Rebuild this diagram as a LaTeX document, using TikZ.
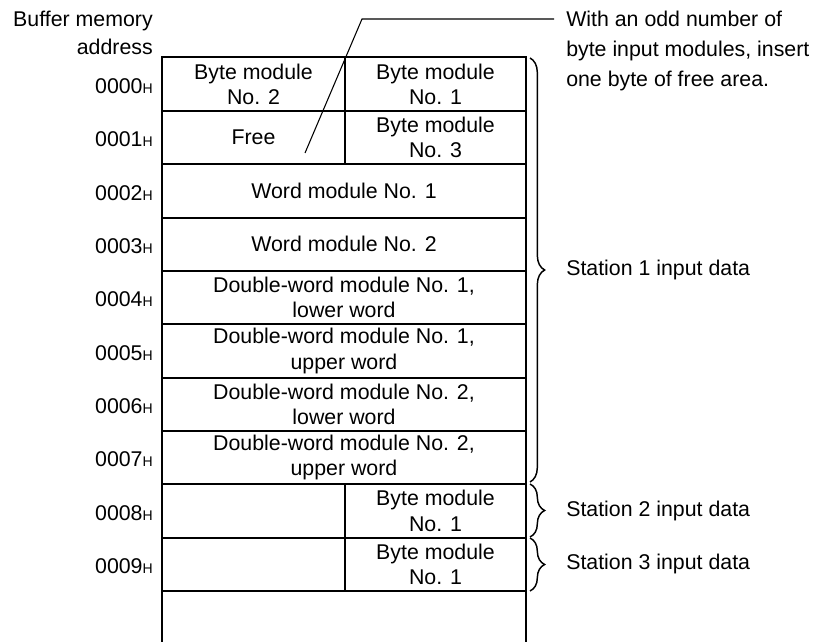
\documentclass[tikz,border=0pt]{standalone}
\usepackage{fontspec}
\setmainfont{Liberation Sans}
\usetikzlibrary{decorations.pathreplacing}

\begin{document}
\begin{tikzpicture}[x=0.75pt,y=-0.75pt,
  grid/.style={line width=1.5pt},
  celltext/.style={align=center, font=\fontsize{16}{19}\selectfont, inner sep=0pt},
  addr/.style={anchor=east, font=\fontsize{16}{19}\selectfont, inner sep=0pt},
  note/.style={align=left, font=\fontsize{16}{22.5}\selectfont, inner sep=0pt},
  callout/.style={line width=0.8pt},
  stationbrace/.style={decorate, decoration={brace, amplitude=11pt}, line width=1.1pt},
  station/.style={anchor=west, font=\fontsize{16}{19}\selectfont, inner sep=0pt},
]
\useasboundingbox (0,0) rectangle (822,642);

\newcommand{\hx}{{\fontsize{10.5}{12}\selectfont H}}

% memory table frame and row separators
\draw[grid] (162,642) -- (162,57.5) -- (526,57.5) -- (526,642);
\foreach \k in {1,...,10}
  \draw[grid] (162,{57.5+53.35*\k}) -- (526,{57.5+53.35*\k});
\draw[grid] (345,57.5) -- (345,164.2);
\draw[grid] (345,484.3) -- (345,591);

% header
\node[align=right, anchor=north east, inner sep=0pt,
      font=\fontsize{16}{21}\selectfont] (hdr) at (153,11) {Buffer memory\\address};

% addresses
\foreach \k/\a in {0/0000,1/0001,2/0002,3/0003,4/0004,5/0005,6/0006,7/0007,8/0008,9/0009}
  \node[addr] (a\a) at (153,{57.5+53.35*\k+28.5}) {\a\hx};

% cell contents
\node[celltext] (b2)  at (253.5,84.2)  {Byte module\\No. 2};
\node[celltext] (b1)  at (435.5,84.2)  {Byte module\\No. 1};
\node[celltext] (fr)  at (253.5,137.5) {Free};
\node[celltext] (b3)  at (435.5,137.5) {Byte module\\No. 3};
\node[celltext] (w1)  at (344,190.9)   {Word module No. 1};
\node[celltext] (w2)  at (344,244.2)   {Word module No. 2};
\node[celltext] (d1l) at (344,297.6)   {Double-word module No. 1,\\lower word};
\node[celltext] (d1u) at (344,350.9)   {Double-word module No. 1,\\upper word};
\node[celltext] (d2l) at (344,404.3)   {Double-word module No. 2,\\lower word};
\node[celltext] (d2u) at (344,457.6)   {Double-word module No. 2,\\upper word};
\node[celltext] (s2b) at (435.5,511)   {Byte module\\No. 1};
\node[celltext] (s3b) at (435.5,564.3) {Byte module\\No. 1};

% callout for the free byte
\node[note, anchor=north west] (nt) at (566,11)
  {With an odd number of\\byte input modules, insert\\one byte of free area.};
\coordinate (ptr) at (305,153);
\coordinate (knee) at (362,19);
\draw[callout, shorten >=9pt] (ptr) -- (knee) -- (knee -| nt.west);

% station braces
\coordinate (s1t) at (530,58);
\coordinate (s1b) at (530,482);
\coordinate (s2t) at (530,484);
\coordinate (s2e) at (530,537);
\coordinate (s3t) at (530,538);
\coordinate (s3e) at (530,591);
\draw[stationbrace] (s1t) -- (s1b);
\draw[stationbrace] (s2t) -- (s2e);
\draw[stationbrace] (s3t) -- (s3e);
\node[station] (st1) at (566,270) {Station 1 input data};
\node[station] (st2) at (566,510.5) {Station 2 input data};
\node[station] (st3) at (566,564) {Station 3 input data};
\end{tikzpicture}
\end{document}
